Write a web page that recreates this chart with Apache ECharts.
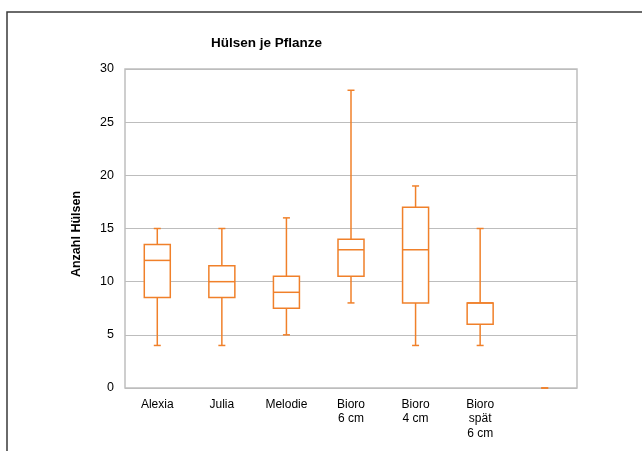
<!DOCTYPE html>
<html>
<head>
<meta charset="utf-8">
<script src="https://cdn.jsdelivr.net/npm/echarts@6/dist/echarts.min.js"></script>
<style>
  html, body { margin: 0; padding: 0; background: #fff; }
  #chart { width: 642px; height: 451px; }
</style>
</head>
<body>
<div id="chart"></div>
<script>
// Kategorien und Boxplot-Werte (min, Q1, Median, Q3, max)
const categories = ["Alexia", "Julia", "Melodie", "Bioro\n6 cm", "Bioro\n4 cm", "Bioro\nspät\n6 cm", ""];
const minValues = [4, 4, 5, 8, 4, 4, 0];
const q1Values = [8.5, 8.5, 7.5, 10.5, 8, 6, 0];
const medianValues = [12, 10, 9, 13, 13, 8, 0];
const q3Values = [13.5, 11.5, 10.5, 14, 17, 8, 0];
const maxValues = [15, 15, 16, 28, 19, 15, 0];
const yTicks = { min: 0, max: 30, interval: 5 };

const boxColor = "#F0802A";
const font = "Liberation Sans, Arial, sans-serif";

const boxData = categories.map((c, i) => [
  i, minValues[i], q1Values[i], medianValues[i], q3Values[i], maxValues[i]
]);

const chart = echarts.init(document.getElementById("chart"));

const renderBox = (params, api) => {
  const i = api.value(0);
  const pMin = api.coord([i, api.value(1)]);
  const pQ1 = api.coord([i, api.value(2)]);
  const pMed = api.coord([i, api.value(3)]);
  const pQ3 = api.coord([i, api.value(4)]);
  const pMax = api.coord([i, api.value(5)]);
  const cx = pMin[0];
  const half = 13;
  const cap = 3.5;
  const style = { stroke: boxColor, lineWidth: 1.5, fill: null };
  const children = [];
  // Whisker
  if (pQ1[1] !== pMin[1]) {
    children.push({ type: "line", shape: { x1: cx, y1: pMin[1], x2: cx, y2: pQ1[1] }, style });
  }
  if (pQ3[1] !== pMax[1]) {
    children.push({ type: "line", shape: { x1: cx, y1: pQ3[1], x2: cx, y2: pMax[1] }, style });
  }
  children.push({ type: "line", shape: { x1: cx - cap, y1: pMin[1], x2: cx + cap, y2: pMin[1] }, style });
  children.push({ type: "line", shape: { x1: cx - cap, y1: pMax[1], x2: cx + cap, y2: pMax[1] }, style });
  // Box + Median
  if (pQ3[1] !== pQ1[1]) {
    children.push({
      type: "rect",
      shape: { x: cx - half, y: pQ3[1], width: half * 2, height: pQ1[1] - pQ3[1] },
      style: { stroke: boxColor, lineWidth: 1.5, fill: "#fff" }
    });
    children.push({ type: "line", shape: { x1: cx - half, y1: pMed[1], x2: cx + half, y2: pMed[1] }, style });
  }
  return { type: "group", children };
};

const option = {
  animation: false,
  title: {
    text: "Hülsen je Pflanze",
    left: 206,
    top: 31,
    textStyle: { fontFamily: font, fontSize: 13.5, fontWeight: "bold", color: "#000" }
  },
  graphic: [
    {
      type: "rect",
      shape: { x: 7, y: 12, width: 700, height: 500 },
      style: { fill: null, stroke: "#3a3a3a", lineWidth: 1.5 },
      silent: true,
      z: -1
    }
  ],
  grid: {
    left: 125,
    top: 69,
    right: 65,
    bottom: 63,
    show: true,
    borderColor: "#BFBFBF",
    borderWidth: 1.5,
    backgroundColor: "#fff"
  },
  xAxis: {
    type: "category",
    data: categories,
    axisLine: { show: false },
    axisTick: { show: false },
    splitLine: { show: false },
    axisLabel: {
      interval: 0,
      margin: 9,
      fontFamily: font,
      fontSize: 12,
      color: "#000",
      lineHeight: 14.5
    }
  },
  yAxis: {
    type: "value",
    min: yTicks.min,
    max: yTicks.max,
    interval: yTicks.interval,
    name: "Anzahl Hülsen",
    nameLocation: "middle",
    nameGap: 42,
    nameTextStyle: {
      fontFamily: font,
      fontSize: 12.5,
      fontWeight: "bold",
      color: "#000",
      padding: [0, 11, 0, 0]
    },
    axisLine: { show: false },
    axisTick: { show: false },
    axisLabel: { margin: 11, fontFamily: font, fontSize: 12.5, color: "#000" },
    splitLine: { lineStyle: { color: "#BDBDBD", width: 1 } }
  },
  series: [
    {
      type: "custom",
      renderItem: renderBox,
      data: boxData,
      encode: { x: 0, y: [1, 2, 3, 4, 5] },
      z: 5
    }
  ]
};

chart.setOption(option);
</script>
</body>
</html>
